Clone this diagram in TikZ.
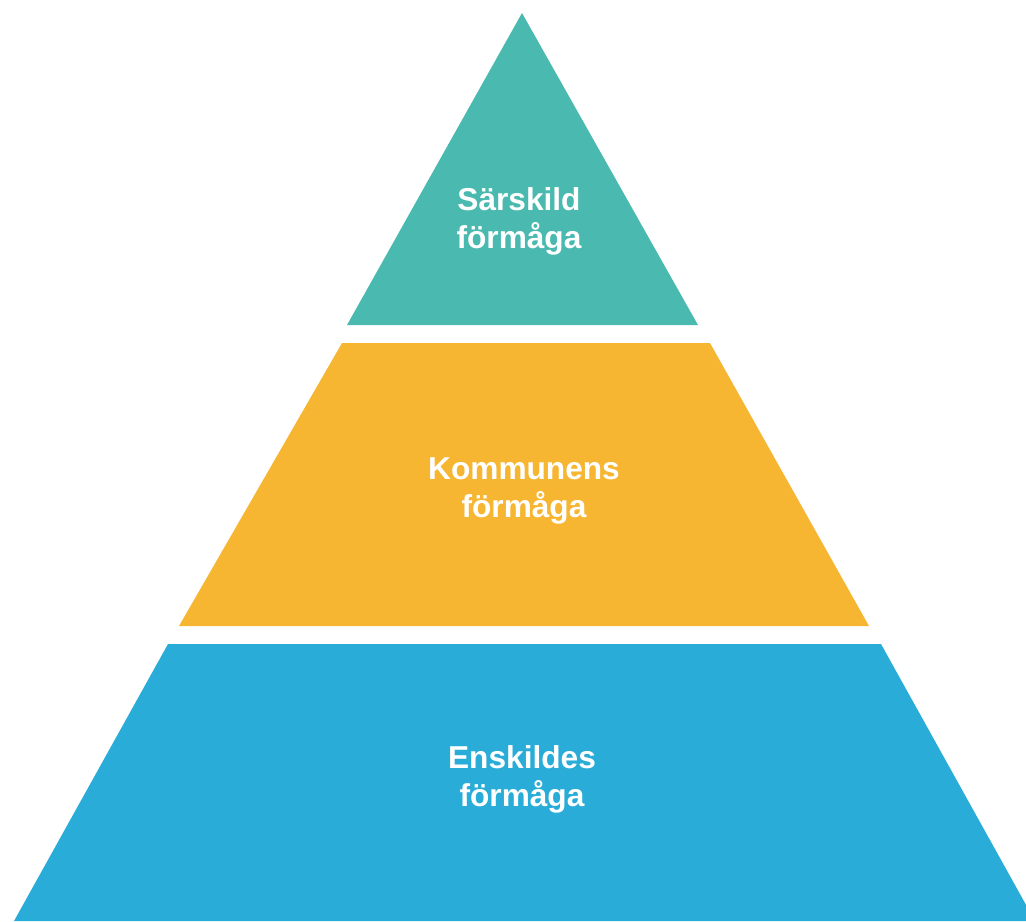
\documentclass[tikz,border=0pt]{standalone}
\usepackage{fontspec}
\setmainfont{Liberation Sans}
\usepackage{tikz}
\usetikzlibrary{positioning}
\definecolor{tierTop}{RGB}{74,186,176}
\definecolor{tierMid}{RGB}{247,182,50}
\definecolor{tierLow}{RGB}{41,173,216}

\begin{document}
\begin{tikzpicture}[
x=0.025cm, y=-0.025cm,
MyTiers/.style={draw=none},
MyLabels/.style={text=white,align=center,font=\fontsize{22.5}{27}\selectfont\bfseries}
]
\useasboundingbox (0,0) rectangle (1026,921);
\clip (0,0) rectangle (1026,921);

% corners of the three layers
\coordinate (A) at (522,13);
\coordinate (B) at (698,325);
\coordinate (C) at (347,325);

\coordinate (D) at (342,343);
\coordinate (E) at (710,343);
\coordinate (F) at (869,626);
\coordinate (G) at (179,626);

\coordinate (H) at (168,644);
\coordinate (I) at (881,644);
\coordinate (J) at (1035,921);
\coordinate (K) at (14,921);

\fill[MyTiers, tierTop] (A)--(B)--(C)--cycle;
\fill[MyTiers, tierMid] (D)--(E)--(F)--(G)--cycle;
\fill[MyTiers, tierLow] (H)--(I)--(J)--(K)--cycle;

\node[MyLabels] (sarskild) at (519,221) {Särskild\\förmåga};
\node[MyLabels] (kommunens) at (524,491) {Kommunens\\förmåga};
\node[MyLabels] (enskildes) at (522,779) {Enskildes\\förmåga};

\end{tikzpicture}
\end{document}
